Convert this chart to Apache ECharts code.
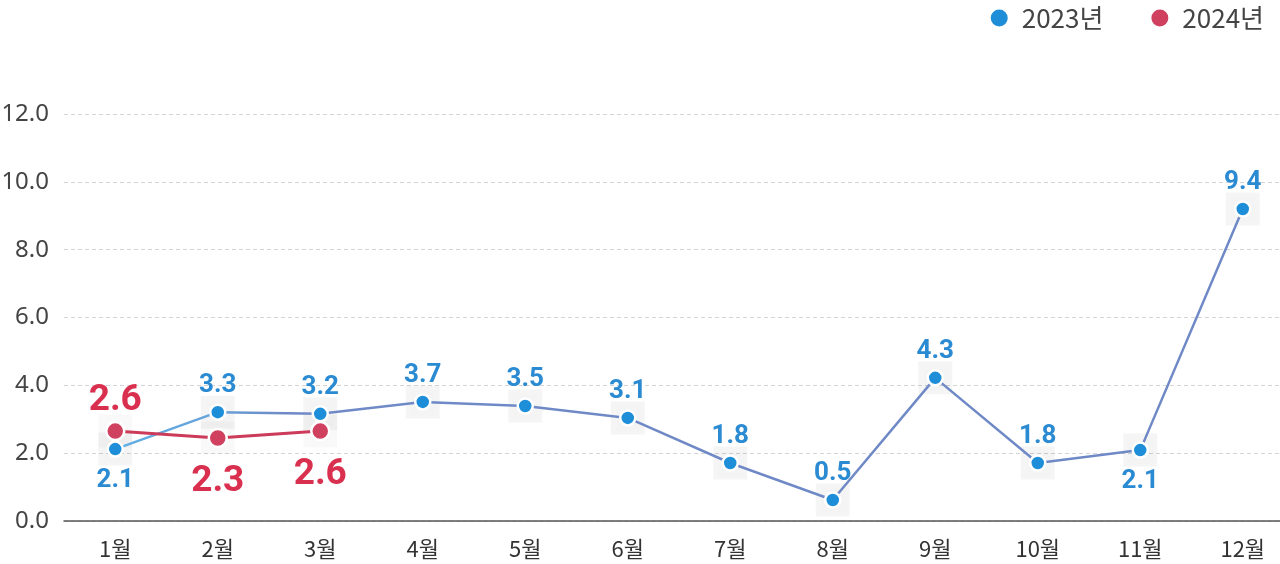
<!DOCTYPE html>
<html><head><meta charset="utf-8">
<script src="https://cdn.jsdelivr.net/npm/echarts@6/dist/echarts.min.js"></script>
<style>html,body{margin:0;padding:0;background:#fff}#c{width:1280px;height:564px}</style>
</head><body><div id="c"></div>
<script>
const categories = ['1월','2월','3월','4월','5월','6월','7월','8월','9월','10월','11월','12월'];
const values2023 = [2.12, 3.21, 3.16, 3.51, 3.39, 3.04, 1.71, 0.62, 4.22, 1.71, 2.09, 9.2];
const labels2023 = ['2.1','3.3','3.2','3.7','3.5','3.1','1.8','0.5','4.3','1.8','2.1','9.4'];
const below2023 = [true,false,false,false,false,false,false,false,false,false,true,false];
const values2024 = [2.65, 2.45, 2.65];
const labels2024 = ['2.6','2.3','2.6'];
const below2024 = [false,true,true];
const yTicks = [0,2,4,6,8,10,12];

const blue = '#1e8ed8', red = '#d0415f';
const labFont = 'Roboto, "DejaVu Sans", sans-serif';

function pts(vals, labs, below, color, size, dTop, dBot) {
  return vals.map((v,i)=>({
    value: v,
    label: {
      show: true, formatter: labs[i],
      position: below[i] ? 'bottom' : 'top',
      distance: below[i] ? dBot : dTop,
      color: color, fontFamily: labFont, fontWeight: 'bold', fontSize: size
    }
  }));
}

const chart = echarts.init(document.getElementById('c'), null, {renderer:'canvas'});
chart.setOption({
  animation: false,
  backgroundColor: '#fff',
  legend: {
    data: ['2023년','2024년'],
    right: 11, top: 0, itemGap: 46, itemWidth: 19, itemHeight: 19,
    icon: 'circle',
    textStyle: {fontSize: 26, color: '#444', fontFamily: '"Noto Sans CJK KR", sans-serif', padding:[0,0,0,8]}
  },
  grid: {left: 64, right: -14, top: 114, bottom: 43, containLabel: false, outerBoundsMode: 'none'},
  xAxis: {
    type: 'category', data: categories, boundaryGap: true,
    axisLine: {lineStyle: {color: '#555', width: 1.5}},
    axisTick: {show: false},
    axisLabel: {fontSize: 22, color: '#333', margin: 17, fontFamily: '"Noto Sans CJK KR", sans-serif'}
  },
  yAxis: {
    type: 'value', min: yTicks[0], max: yTicks[yTicks.length-1], interval: 2,
    axisLine: {show: false}, axisTick: {show: false},
    axisLabel: {fontSize: 24, color: '#444', margin: 15, formatter: v => v.toFixed(1), fontFamily: '"Noto Sans", sans-serif'},
    splitLine: {lineStyle: {color: '#d4d4d4', type: [4,3], width: 1}}
  },
  series: [
    {
      name: 'bg2023', type: 'scatter', data: values2023, symbol: 'rect', symbolSize: [34,33],
      itemStyle: {color: 'rgba(0,0,0,0.05)', shadowColor: 'rgba(0,0,0,0.05)', shadowBlur: 3}, silent: true, z: 1
    },
    {
      name: 'bg2024', type: 'scatter', data: values2024, symbol: 'rect', symbolSize: [34,33],
      itemStyle: {color: 'rgba(0,0,0,0.03)'}, silent: true, z: 1
    },
    {
      name: '2023년', type: 'line', data: pts(values2023, labels2023, below2023, '#2a8ad2', 26, 5, 10),
      symbol: 'circle', symbolSize: 15,
      itemStyle: {color: blue, borderColor: '#fff', borderWidth: 2.5},
      lineStyle: {width: 2.5, color: new echarts.graphic.LinearGradient(0,0,1,0,[
        {offset:0, color:'#5eb0e6'}, {offset:0.09, color:'#68a2da'}, {offset:0.15, color:'#6f8ac6'}, {offset:1, color:'#6f88c6'}
      ])},
      z: 3
    },
    {
      name: '2024년', type: 'line', data: pts(values2024, labels2024, below2024, '#d9304f', 37, 2, 15),
      symbol: 'circle', symbolSize: 18,
      itemStyle: {color: red, borderColor: '#fff', borderWidth: 2.5},
      lineStyle: {width: 3, color: '#cc3b5a'},
      z: 4
    }
  ]
});
</script></body></html>
